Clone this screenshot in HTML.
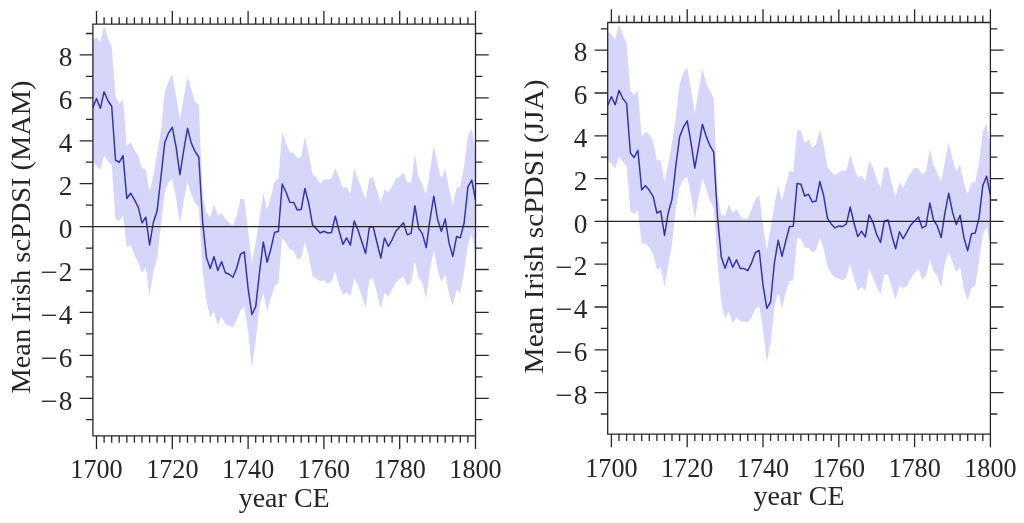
<!DOCTYPE html>
<html lang="en"><head><meta charset="utf-8"><title>Mean Irish scPDSI</title>
<style>
html,body{margin:0;padding:0;background:#fff;}
body{width:1024px;height:523px;overflow:hidden;}
svg{display:block;}
.band{fill:#d6d6fb;stroke:none;}
.mean{fill:none;stroke:#3535aa;stroke-width:1.5;stroke-linejoin:round;}
.ax{fill:none;stroke:#262626;stroke-width:1.3;stroke-linecap:butt;}
.t{font-family:"Liberation Serif",serif;font-size:27px;fill:#262626;}
</style></head><body>
<svg width="1024" height="523" viewBox="0 0 1024 523">
<rect width="1024" height="523" fill="#fff"/>
<clipPath id="c1"><rect x="92.9" y="24.2" width="382.6" height="411.6"/></clipPath>
<g clip-path="url(#c1)">
<polygon class="band" points="92.7,40 96.5,37.3 100.3,42.5 104.1,25.2 107.9,38.6 111.7,46 115.5,95.9 119.2,103.7 123,98.9 126.8,146.8 130.6,142 134.4,149.7 138.2,155.6 142,168.2 145.8,169.5 149.6,192 153.3,176 157.1,153.2 160.9,131.4 164.7,92.3 168.5,81.5 172.3,74.3 176.1,96 179.9,120 183.7,98 187.5,75.7 191.2,89.3 195,102 198.8,104 202.6,195 206.4,212.8 210.2,217 214,204.6 217.8,215.5 221.6,213.1 225.4,219 229.2,222.6 232.9,225.8 236.7,215.8 240.5,198.7 244.3,199.4 248.1,230.2 251.9,263 255.7,242 259.5,218 263.3,192.6 267.1,209.6 270.8,197.3 274.6,181.6 278.4,178.9 282.2,131.7 286,143.4 289.8,152.2 293.6,153.2 297.4,158 301.2,157 304.9,136.6 308.7,153.2 312.5,173.7 316.3,177.6 320.1,183.5 323.9,179.6 327.7,179.6 331.5,178.6 335.3,167.9 339.1,177.6 342.9,188.4 346.6,186.4 350.4,194 354.2,167.9 358,178.6 361.8,189.3 365.6,199.4 369.4,178.6 373.2,177.6 377,190.3 380.8,202.8 384.5,189.3 388.3,192.3 392.1,186.4 395.9,178.6 399.7,176.6 403.5,172.3 407.3,182.5 411.1,182.5 414.9,154.2 418.6,176.6 422.4,184.5 426.2,195.2 430,169.8 433.8,145.4 437.6,164.9 441.4,178.6 445.2,168.8 449,188.4 452.8,205.7 456.6,187.4 460.3,186.4 464.1,165.9 467.9,135.6 471.7,128.8 475.5,151 475.5,254.5 471.7,234 467.9,244.7 464.1,271.7 460.3,293.2 456.6,289.3 452.8,305.9 449,294.2 445.2,274.3 441.4,282.2 437.6,269.9 433.8,250.3 430,269 426.2,299 422.4,283 418.6,277.7 414.9,261.2 411.1,282.6 407.3,285.5 403.5,276.7 399.7,279.2 395.9,282.5 392.1,289.3 388.3,297.1 384.5,292.2 380.8,308.8 377,293.2 373.2,278.3 369.4,279.6 365.6,307.9 361.8,296.1 358,285.5 354.2,278.7 350.4,296.1 346.6,292.2 342.9,295.2 339.1,285.5 335.3,271.3 331.5,281.6 327.7,284 323.9,280.6 320.1,281 316.3,278.7 312.5,276.2 308.7,256.6 304.9,241.8 301.2,258.2 297.4,259.4 293.6,251 289.8,249.5 286,243 282.2,237.8 278.4,283 274.6,286 270.8,298.8 267.1,310.5 263.3,293 259.5,306.7 255.7,341 251.9,367.4 248.1,332 244.3,306.6 240.5,310.5 236.7,320.3 232.9,327.7 229.2,325.2 225.4,324.2 221.6,316.4 217.8,325.2 214,311.5 210.2,317.4 206.4,300.8 202.6,270 198.8,207.8 195,203 191.2,194.2 187.5,181.7 183.7,201 179.9,223.5 176.1,198.2 172.3,178.7 168.5,183 164.7,192 160.9,226 157.1,258 153.3,272.5 149.6,295.9 145.8,267.6 142,273 138.2,262.5 134.4,255 130.6,244.5 126.8,247.7 123,215 119.2,221.3 115.5,219 111.7,165.3 107.9,161.4 104.1,155.5 100.3,170.3 96.5,165.3 92.7,162"/>
<polyline class="mean" points="92.7,108 96.5,98.5 100.3,108.3 104.1,91.7 107.9,100.8 111.7,106.3 115.5,160 119.2,162.4 123,155.6 126.8,198.5 130.6,193.2 134.4,199.6 138.2,207.1 142,222.8 145.8,217.1 149.6,245 153.3,222.5 157.1,211.1 160.9,177.5 164.7,142.8 168.5,133 172.3,127.3 176.1,147.2 179.9,174.7 183.7,150.5 187.5,128.3 191.2,142.9 195,151.4 198.8,157 202.6,221.5 206.4,257.2 210.2,268.5 214,256.6 217.8,270.5 221.6,261.8 225.4,272.8 229.2,274.2 232.9,277.3 236.7,268 240.5,254.2 244.3,252 248.1,288.7 251.9,314.5 255.7,306.6 259.5,272.5 263.3,241.9 267.1,262.2 270.8,249.2 274.6,232.3 278.4,231.5 282.2,184 286,192 289.8,202.3 293.6,202.4 297.4,210.1 301.2,209.4 304.9,188.5 308.7,203.2 312.5,224.7 316.3,228.8 320.1,233 323.9,231.2 327.7,233 331.5,232.6 335.3,216.2 339.1,231 342.9,244.3 346.6,237.9 350.4,245.1 354.2,220.9 358,230 361.8,241.8 365.6,253.5 369.4,227.1 373.2,227.1 377,242.7 380.8,258 384.5,237.9 388.3,246.3 392.1,239.8 395.9,231 399.7,227.1 403.5,222.8 407.3,234.9 411.1,233.4 414.9,205.7 418.6,228.1 422.4,233.9 426.2,247.6 430,219.3 433.8,196.2 437.6,219.5 441.4,231.4 445.2,219 449,242.7 452.8,256.4 456.6,236.5 460.3,237.9 464.1,223 467.9,187.2 471.7,180 475.5,199.9"/>
</g>
<path class="ax" d="M92.9 24.2H475.5V435.8H92.9ZM96.5 24.2v-13.2M96.5 435.8v13.2M104.1 24.2v-6.9M104.1 435.8v6.9M111.7 24.2v-6.9M111.7 435.8v6.9M119.2 24.2v-6.9M119.2 435.8v6.9M126.8 24.2v-6.9M126.8 435.8v6.9M134.4 24.2v-6.9M134.4 435.8v6.9M142 24.2v-6.9M142 435.8v6.9M149.6 24.2v-6.9M149.6 435.8v6.9M157.1 24.2v-6.9M157.1 435.8v6.9M164.7 24.2v-6.9M164.7 435.8v6.9M172.3 24.2v-13.2M172.3 435.8v13.2M179.9 24.2v-6.9M179.9 435.8v6.9M187.5 24.2v-6.9M187.5 435.8v6.9M195 24.2v-6.9M195 435.8v6.9M202.6 24.2v-6.9M202.6 435.8v6.9M210.2 24.2v-6.9M210.2 435.8v6.9M217.8 24.2v-6.9M217.8 435.8v6.9M225.4 24.2v-6.9M225.4 435.8v6.9M232.9 24.2v-6.9M232.9 435.8v6.9M240.5 24.2v-6.9M240.5 435.8v6.9M248.1 24.2v-13.2M248.1 435.8v13.2M255.7 24.2v-6.9M255.7 435.8v6.9M263.3 24.2v-6.9M263.3 435.8v6.9M270.8 24.2v-6.9M270.8 435.8v6.9M278.4 24.2v-6.9M278.4 435.8v6.9M286 24.2v-6.9M286 435.8v6.9M293.6 24.2v-6.9M293.6 435.8v6.9M301.2 24.2v-6.9M301.2 435.8v6.9M308.7 24.2v-6.9M308.7 435.8v6.9M316.3 24.2v-6.9M316.3 435.8v6.9M323.9 24.2v-13.2M323.9 435.8v13.2M331.5 24.2v-6.9M331.5 435.8v6.9M339.1 24.2v-6.9M339.1 435.8v6.9M346.6 24.2v-6.9M346.6 435.8v6.9M354.2 24.2v-6.9M354.2 435.8v6.9M361.8 24.2v-6.9M361.8 435.8v6.9M369.4 24.2v-6.9M369.4 435.8v6.9M377 24.2v-6.9M377 435.8v6.9M384.5 24.2v-6.9M384.5 435.8v6.9M392.1 24.2v-6.9M392.1 435.8v6.9M399.7 24.2v-13.2M399.7 435.8v13.2M407.3 24.2v-6.9M407.3 435.8v6.9M414.9 24.2v-6.9M414.9 435.8v6.9M422.4 24.2v-6.9M422.4 435.8v6.9M430 24.2v-6.9M430 435.8v6.9M437.6 24.2v-6.9M437.6 435.8v6.9M445.2 24.2v-6.9M445.2 435.8v6.9M452.8 24.2v-6.9M452.8 435.8v6.9M460.3 24.2v-6.9M460.3 435.8v6.9M467.9 24.2v-6.9M467.9 435.8v6.9M475.5 24.2v-13.2M475.5 435.8v13.2M92.9 419.7h-6.9M475.5 419.7h6.9M92.9 398.3h-13.2M475.5 398.3h13.2M92.9 376.8h-6.9M475.5 376.8h6.9M92.9 355.4h-13.2M475.5 355.4h13.2M92.9 333.9h-6.9M475.5 333.9h6.9M92.9 312.4h-13.2M475.5 312.4h13.2M92.9 291h-6.9M475.5 291h6.9M92.9 269.5h-13.2M475.5 269.5h13.2M92.9 248.1h-6.9M475.5 248.1h6.9M79.7 226.6H488.7M92.9 205.1h-6.9M475.5 205.1h6.9M92.9 183.7h-13.2M475.5 183.7h13.2M92.9 162.2h-6.9M475.5 162.2h6.9M92.9 140.8h-13.2M475.5 140.8h13.2M92.9 119.3h-6.9M475.5 119.3h6.9M92.9 97.8h-13.2M475.5 97.8h13.2M92.9 76.4h-6.9M475.5 76.4h6.9M92.9 54.9h-13.2M475.5 54.9h13.2M92.9 33.5h-6.9M475.5 33.5h6.9"/>
<text class="t" text-anchor="end" transform="translate(72.5 409.5) scale(1.01 1)">8</text>
<text class="t" text-anchor="end" transform="translate(57.6 409.7) scale(1.13 1)">−</text>
<text class="t" text-anchor="end" transform="translate(72.5 366.6) scale(1.01 1)">6</text>
<text class="t" text-anchor="end" transform="translate(57.6 366.8) scale(1.13 1)">−</text>
<text class="t" text-anchor="end" transform="translate(72.5 323.6) scale(1.01 1)">4</text>
<text class="t" text-anchor="end" transform="translate(57.6 323.8) scale(1.13 1)">−</text>
<text class="t" text-anchor="end" transform="translate(72.5 280.7) scale(1.01 1)">2</text>
<text class="t" text-anchor="end" transform="translate(57.6 280.9) scale(1.13 1)">−</text>
<text class="t" text-anchor="end" transform="translate(72.5 237.8) scale(1.01 1)">0</text>
<text class="t" text-anchor="end" transform="translate(72.5 194.9) scale(1.01 1)">2</text>
<text class="t" text-anchor="end" transform="translate(72.5 152) scale(1.01 1)">4</text>
<text class="t" text-anchor="end" transform="translate(72.5 109) scale(1.01 1)">6</text>
<text class="t" text-anchor="end" transform="translate(72.5 66.1) scale(1.01 1)">8</text>
<text class="t" text-anchor="middle" transform="translate(96.5 478.2) scale(0.97 1)">1700</text>
<text class="t" text-anchor="middle" transform="translate(172.3 478.2) scale(0.97 1)">1720</text>
<text class="t" text-anchor="middle" transform="translate(248.1 478.2) scale(0.97 1)">1740</text>
<text class="t" text-anchor="middle" transform="translate(323.9 478.2) scale(0.97 1)">1760</text>
<text class="t" text-anchor="middle" transform="translate(399.7 478.2) scale(0.97 1)">1780</text>
<text class="t" text-anchor="middle" transform="translate(475.5 478.2) scale(0.97 1)">1800</text>
<text class="t" text-anchor="middle" x="284.2" y="507" textLength="91" lengthAdjust="spacingAndGlyphs">year CE</text>
<text class="t" text-anchor="middle" transform="translate(30.3 237) rotate(-90)" textLength="313" lengthAdjust="spacingAndGlyphs">Mean Irish scPDSI (MAM)</text>
<clipPath id="c2"><rect x="607.7" y="22.5" width="382.7" height="411.6"/></clipPath>
<g clip-path="url(#c2)">
<polygon class="band" points="607.6,31.7 611.4,33.7 615.2,39.5 619,24.3 622.8,34.6 626.6,43.4 630.4,90.3 634.1,95.2 637.9,90.2 641.7,136.9 645.5,132 649.3,133.9 653.1,140.8 656.9,160.3 660.7,160.3 664.5,182 668.2,164 672,142.7 675.8,117.3 679.6,84.5 683.4,72.3 687.2,66.9 691,89.3 694.8,113.8 698.6,90.3 702.4,68.8 706.1,82.5 709.9,91.3 713.7,98.1 717.5,195 721.3,215 725.1,215.9 728.9,204.2 732.7,213 736.5,209 740.3,215.9 744,218.8 747.8,218.8 751.6,209 755.4,199.3 759.2,195.4 763,224.7 766.8,250 770.6,228.6 774.4,205 778.2,186.6 782,200.3 785.7,185.6 789.5,171 793.3,172 797.1,130.2 800.9,130.3 804.7,143.2 808.5,139.3 812.3,148.1 816.1,144.2 819.8,129.5 823.6,144.2 827.4,167.6 831.2,171.5 835,175.4 838.8,172.5 842.6,170.5 846.4,170.5 850.2,153.9 854,167.6 857.8,177.4 861.5,175.4 865.3,181.3 869.1,160.8 872.9,166.6 876.7,179.3 880.5,188.1 884.3,167.6 888.1,167.6 891.9,184.2 895.6,196.9 899.4,182.3 903.2,188.1 907,179.3 910.8,172.5 914.6,167.6 918.4,168.6 922.2,174.5 926,171.5 929.8,149.1 933.5,164.7 937.3,172.5 941.1,182.3 944.9,161.8 948.7,142.2 952.5,158.8 956.3,171.5 960.1,163.7 963.9,183.2 967.7,194 971.5,182.3 975.2,182.3 979,162.7 982.8,131.5 986.6,123.7 990.4,149 990.4,244.5 986.6,226.9 982.8,234.7 979,261.7 975.2,286.1 971.5,288.1 967.7,300.8 963.9,289.1 960.1,267.2 956.3,272.1 952.5,262.8 948.7,251.6 944.9,263.3 941.1,288.1 937.3,276 933.5,271.6 929.8,259 926,276.5 922.2,279 918.4,268.7 914.6,273.6 910.8,278.3 907,286.1 903.2,288.1 899.4,286.1 895.6,299.8 891.9,288.1 888.1,275 884.3,274.5 880.5,294 876.7,287.1 872.9,277.5 869.1,268.3 865.3,291 861.5,287.1 857.8,291 854,278.5 850.2,263.8 846.4,277.5 842.6,280.6 838.8,278.5 835,277.5 831.2,273.6 827.4,266.7 823.6,248.4 819.8,237.6 816.1,250.3 812.3,252.3 808.5,247.4 804.7,247.4 800.9,238.6 797.1,238.6 793.3,280.3 789.5,281.2 785.7,293 782,308.6 778.2,293 774.4,306.8 770.6,343.4 766.8,362.5 763,328.5 759.2,306.6 755.4,308.6 751.6,317.4 747.8,322.3 744,321.3 740.3,321.3 736.5,317.4 732.7,323.2 728.9,311.5 725.1,318.4 721.3,302.7 717.5,262 713.7,207.1 709.9,201.2 706.1,188.6 702.4,178.4 698.6,197.3 694.8,218.8 691,195.4 687.2,177 683.4,179.3 679.6,187.6 675.8,209 672,244.2 668.2,265.6 664.5,287.1 660.7,267.6 656.9,269.7 653.1,254 649.3,248.1 645.5,243.2 641.7,244.2 637.9,210 634.1,214 630.4,211 626.6,165.6 622.8,162 619,156.2 615.2,168.7 611.4,163.5 607.6,160.5"/>
<polyline class="mean" points="607.6,105.7 611.4,96.7 615.2,104.8 619,90.4 622.8,98.5 626.6,103.4 630.4,153 634.1,157.4 637.9,150.3 641.7,190 645.5,185.6 649.3,190.3 653.1,196.4 656.9,213 660.7,211 664.5,235.4 668.2,213 672,199.3 675.8,166 679.6,136.9 683.4,127.1 687.2,120.9 691,142.7 694.8,168.1 698.6,146.6 702.4,124.2 706.1,135.9 709.9,145.7 713.7,152.1 717.5,216.9 721.3,257 725.1,268.2 728.9,257.1 732.7,267.2 736.5,259.8 740.3,268.6 744,268.6 747.8,270.6 751.6,262.8 755.4,252.5 759.2,250.5 763,285.2 766.8,308.4 770.6,301.8 774.4,263 778.2,240.3 782,256.4 785.7,241.3 789.5,226.6 793.3,226.2 797.1,183.4 800.9,184.3 804.7,196 808.5,194.3 812.3,201.9 816.1,201 819.8,181.5 823.6,195.3 827.4,218.1 831.2,223.9 835,227.9 838.8,225.9 842.6,226.5 846.4,223.9 850.2,207 854,223 857.8,236.6 861.5,231.2 865.3,237 869.1,214.8 872.9,222 876.7,234.7 880.5,242.5 884.3,221 888.1,220 891.9,235.7 895.6,248.8 899.4,231.8 903.2,238.6 907,231.8 910.8,224.9 914.6,221 918.4,217.1 922.2,227.9 926,225.9 929.8,203 933.5,220 937.3,225.9 941.1,237.6 944.9,213.2 948.7,193.2 952.5,212.2 956.3,224.5 960.1,215.2 963.9,237.6 967.7,250.7 971.5,233.7 975.2,233.1 979,218.1 982.8,185.6 986.6,176.2 990.4,195.3"/>
</g>
<path class="ax" d="M607.7 22.5H990.4V434.1H607.7ZM611.4 22.5v-13.2M611.4 434.1v13.2M619 22.5v-6.9M619 434.1v6.9M626.6 22.5v-6.9M626.6 434.1v6.9M634.1 22.5v-6.9M634.1 434.1v6.9M641.7 22.5v-6.9M641.7 434.1v6.9M649.3 22.5v-6.9M649.3 434.1v6.9M656.9 22.5v-6.9M656.9 434.1v6.9M664.5 22.5v-6.9M664.5 434.1v6.9M672 22.5v-6.9M672 434.1v6.9M679.6 22.5v-6.9M679.6 434.1v6.9M687.2 22.5v-13.2M687.2 434.1v13.2M694.8 22.5v-6.9M694.8 434.1v6.9M702.4 22.5v-6.9M702.4 434.1v6.9M709.9 22.5v-6.9M709.9 434.1v6.9M717.5 22.5v-6.9M717.5 434.1v6.9M725.1 22.5v-6.9M725.1 434.1v6.9M732.7 22.5v-6.9M732.7 434.1v6.9M740.3 22.5v-6.9M740.3 434.1v6.9M747.8 22.5v-6.9M747.8 434.1v6.9M755.4 22.5v-6.9M755.4 434.1v6.9M763 22.5v-13.2M763 434.1v13.2M770.6 22.5v-6.9M770.6 434.1v6.9M778.2 22.5v-6.9M778.2 434.1v6.9M785.7 22.5v-6.9M785.7 434.1v6.9M793.3 22.5v-6.9M793.3 434.1v6.9M800.9 22.5v-6.9M800.9 434.1v6.9M808.5 22.5v-6.9M808.5 434.1v6.9M816.1 22.5v-6.9M816.1 434.1v6.9M823.6 22.5v-6.9M823.6 434.1v6.9M831.2 22.5v-6.9M831.2 434.1v6.9M838.8 22.5v-13.2M838.8 434.1v13.2M846.4 22.5v-6.9M846.4 434.1v6.9M854 22.5v-6.9M854 434.1v6.9M861.5 22.5v-6.9M861.5 434.1v6.9M869.1 22.5v-6.9M869.1 434.1v6.9M876.7 22.5v-6.9M876.7 434.1v6.9M884.3 22.5v-6.9M884.3 434.1v6.9M891.9 22.5v-6.9M891.9 434.1v6.9M899.4 22.5v-6.9M899.4 434.1v6.9M907 22.5v-6.9M907 434.1v6.9M914.6 22.5v-13.2M914.6 434.1v13.2M922.2 22.5v-6.9M922.2 434.1v6.9M929.8 22.5v-6.9M929.8 434.1v6.9M937.3 22.5v-6.9M937.3 434.1v6.9M944.9 22.5v-6.9M944.9 434.1v6.9M952.5 22.5v-6.9M952.5 434.1v6.9M960.1 22.5v-6.9M960.1 434.1v6.9M967.7 22.5v-6.9M967.7 434.1v6.9M975.2 22.5v-6.9M975.2 434.1v6.9M982.8 22.5v-6.9M982.8 434.1v6.9M990.4 22.5v-13.2M990.4 434.1v13.2M607.7 414h-6.9M990.4 414h6.9M607.7 392.6h-13.2M990.4 392.6h13.2M607.7 371.2h-6.9M990.4 371.2h6.9M607.7 349.8h-13.2M990.4 349.8h13.2M607.7 328.4h-6.9M990.4 328.4h6.9M607.7 307h-13.2M990.4 307h13.2M607.7 285.6h-6.9M990.4 285.6h6.9M607.7 264.2h-13.2M990.4 264.2h13.2M607.7 242.8h-6.9M990.4 242.8h6.9M594.5 221.4H1003.6M607.7 200h-6.9M990.4 200h6.9M607.7 178.6h-13.2M990.4 178.6h13.2M607.7 157.2h-6.9M990.4 157.2h6.9M607.7 135.8h-13.2M990.4 135.8h13.2M607.7 114.4h-6.9M990.4 114.4h6.9M607.7 93h-13.2M990.4 93h13.2M607.7 71.6h-6.9M990.4 71.6h6.9M607.7 50.2h-13.2M990.4 50.2h13.2M607.7 28.8h-6.9M990.4 28.8h6.9"/>
<text class="t" text-anchor="end" transform="translate(587.3 403.8) scale(1.01 1)">8</text>
<text class="t" text-anchor="end" transform="translate(572.4 404) scale(1.13 1)">−</text>
<text class="t" text-anchor="end" transform="translate(587.3 361) scale(1.01 1)">6</text>
<text class="t" text-anchor="end" transform="translate(572.4 361.2) scale(1.13 1)">−</text>
<text class="t" text-anchor="end" transform="translate(587.3 318.2) scale(1.01 1)">4</text>
<text class="t" text-anchor="end" transform="translate(572.4 318.4) scale(1.13 1)">−</text>
<text class="t" text-anchor="end" transform="translate(587.3 275.4) scale(1.01 1)">2</text>
<text class="t" text-anchor="end" transform="translate(572.4 275.6) scale(1.13 1)">−</text>
<text class="t" text-anchor="end" transform="translate(587.3 232.6) scale(1.01 1)">0</text>
<text class="t" text-anchor="end" transform="translate(587.3 189.8) scale(1.01 1)">2</text>
<text class="t" text-anchor="end" transform="translate(587.3 147) scale(1.01 1)">4</text>
<text class="t" text-anchor="end" transform="translate(587.3 104.2) scale(1.01 1)">6</text>
<text class="t" text-anchor="end" transform="translate(587.3 61.4) scale(1.01 1)">8</text>
<text class="t" text-anchor="middle" transform="translate(611.4 476.5) scale(0.97 1)">1700</text>
<text class="t" text-anchor="middle" transform="translate(687.2 476.5) scale(0.97 1)">1720</text>
<text class="t" text-anchor="middle" transform="translate(763 476.5) scale(0.97 1)">1740</text>
<text class="t" text-anchor="middle" transform="translate(838.8 476.5) scale(0.97 1)">1760</text>
<text class="t" text-anchor="middle" transform="translate(914.6 476.5) scale(0.97 1)">1780</text>
<text class="t" text-anchor="middle" transform="translate(990.4 476.5) scale(0.97 1)">1800</text>
<text class="t" text-anchor="middle" x="799" y="505.3" textLength="91" lengthAdjust="spacingAndGlyphs">year CE</text>
<text class="t" text-anchor="middle" transform="translate(543 226.4) rotate(-90)" textLength="294" lengthAdjust="spacingAndGlyphs">Mean Irish scPDSI (JJA)</text>
</svg>
</body></html>
